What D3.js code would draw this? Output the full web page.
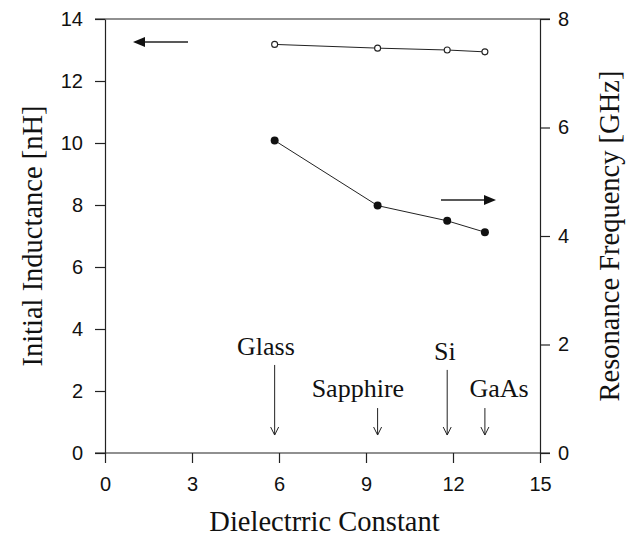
<!DOCTYPE html>
<html>
<head>
<meta charset="utf-8">
<script src="https://cdn.jsdelivr.net/npm/d3@7"></script>
<style>
  body { margin: 0; background: #fff; }
  svg { display: block; }
  .tick text { font-family: "Liberation Sans", Arial, sans-serif; font-size: 20px; fill: #111; }
  .title { font-family: "Liberation Serif", "Times New Roman", serif; font-size: 28.5px; fill: #111; }
  .note { font-family: "Liberation Serif", "Times New Roman", serif; font-size: 26px; fill: #111; }
</style>
</head>
<body>
<div id="chart"></div>
<script>
// dielectric constant of each substrate
var dielectric = [5.85, 9.4, 11.8, 13.1];
var inductance = [13.18, 13.06, 13.0, 12.94];   // nH, left axis
var frequency = [5.76, 4.56, 4.28, 4.07];       // GHz, right axis
var materials = ["Glass", "Sapphire", "Si", "GaAs"];
var xTicks = [0, 3, 6, 9, 12, 15];
var yLeftTicks = [0, 2, 4, 6, 8, 10, 12, 14];
var yRightTicks = [0, 2, 4, 6, 8];

// where the substrate labels sit (in left axis units)
var labelX = [5.55, 8.72, 11.72, 13.59];
var labelY = [3.16, 1.8, 3.0, 1.8];
var arrowTop = [2.84, 1.45, 2.68, 1.45];
var arrowBottom = 0.58;

var W = 627, H = 539;
var m = {left: 105, right: 87, top: 19, bottom: 86};

var svg = d3.select("#chart").append("svg")
  .attr("width", W).attr("height", H);

var x = d3.scaleLinear().domain([0, 15]).range([m.left, W - m.right]);
var yL = d3.scaleLinear().domain([0, 14]).range([H - m.bottom, m.top]);
var yR = d3.scaleLinear().domain([0, 8]).range([H - m.bottom, m.top]);

var ink = "#222";

// top frame line
svg.append("line")
  .attr("x1", x(0) - 10).attr("x2", x(15) + 10)
  .attr("y1", yL(14)).attr("y2", yL(14))
  .attr("stroke", ink).attr("stroke-width", 1.2);

var gx = svg.append("g")
  .attr("transform", "translate(0," + yL(0) + ")")
  .call(d3.axisBottom(x).tickValues(xTicks).tickSize(10).tickPadding(14).tickSizeOuter(0));
gx.select(".domain").attr("d", "M" + (x(0) - 10) + ",0H" + (x(15) + 10));

svg.append("g")
  .attr("transform", "translate(" + x(0) + ",0)")
  .call(d3.axisLeft(yL).tickValues(yLeftTicks).tickSize(10).tickPadding(12).tickSizeOuter(0));

svg.append("g")
  .attr("transform", "translate(" + x(15) + ",0)")
  .call(d3.axisRight(yR).tickValues(yRightTicks).tickSize(10).tickPadding(8).tickSizeOuter(0));

svg.selectAll(".domain, .tick line").attr("stroke", ink).attr("stroke-width", 1.2);

// axis titles
svg.append("text").attr("class", "title")
  .attr("x", (x(0) + x(15)) / 2 + 2).attr("y", 531)
  .attr("text-anchor", "middle")
  .text("Dielectrric Constant");

svg.append("text").attr("class", "title")
  .attr("transform", "translate(42," + yL(7) + ") rotate(-90)")
  .attr("text-anchor", "middle")
  .text("Initial Inductance [nH]");

svg.append("text").attr("class", "title")
  .attr("transform", "translate(619," + yR(4) + ") rotate(-90)")
  .attr("text-anchor", "middle")
  .text("Resonance Frequency [GHz]");

// series
var pts = dielectric.map(function(d, i) {
  return {x: d, l: inductance[i], f: frequency[i]};
});

var lineL = d3.line().x(function(d) { return x(d.x); }).y(function(d) { return yL(d.l); });
var lineR = d3.line().x(function(d) { return x(d.x); }).y(function(d) { return yR(d.f); });

svg.append("path").datum(pts).attr("d", lineL)
  .attr("fill", "none").attr("stroke", ink).attr("stroke-width", 1);
svg.append("path").datum(pts).attr("d", lineR)
  .attr("fill", "none").attr("stroke", ink).attr("stroke-width", 1);

svg.selectAll(".open").data(pts).enter().append("circle")
  .attr("cx", function(d) { return x(d.x); })
  .attr("cy", function(d) { return yL(d.l); })
  .attr("r", 3)
  .attr("fill", "#fff").attr("stroke", ink).attr("stroke-width", 1.1);

svg.selectAll(".filled").data(pts).enter().append("circle")
  .attr("cx", function(d) { return x(d.x); })
  .attr("cy", function(d) { return yR(d.f); })
  .attr("r", 4)
  .attr("fill", "#111");

// which axis each series belongs to
function bigArrow(x1, x2, yy) {
  var dir = x2 > x1 ? 1 : -1;
  svg.append("line")
    .attr("x1", x1).attr("x2", x2 - dir * 10)
    .attr("y1", yy).attr("y2", yy)
    .attr("stroke", ink).attr("stroke-width", 1.5);
  svg.append("polygon")
    .attr("points", [[x2, yy], [x2 - dir * 12, yy - 5], [x2 - dir * 12, yy + 5]].join(" "))
    .attr("fill", "#111");
}
bigArrow(188, 133, 42);
bigArrow(441, 496, 200);

// substrate markers
materials.forEach(function(name, i) {
  var ax = x(dielectric[i]);
  svg.append("text").attr("class", "note")
    .attr("x", x(labelX[i])).attr("y", yL(labelY[i]))
    .attr("text-anchor", "middle")
    .text(name);
  var y1 = yL(arrowTop[i]), y2 = yL(arrowBottom);
  svg.append("line")
    .attr("x1", ax).attr("x2", ax).attr("y1", y1).attr("y2", y2)
    .attr("stroke", ink).attr("stroke-width", 1);
  svg.append("path")
    .attr("d", "M" + (ax - 4) + "," + (y2 - 8) + "L" + ax + "," + y2 + "L" + (ax + 4) + "," + (y2 - 8))
    .attr("fill", "none").attr("stroke", ink).attr("stroke-width", 1);
});
</script>
</body>
</html>
